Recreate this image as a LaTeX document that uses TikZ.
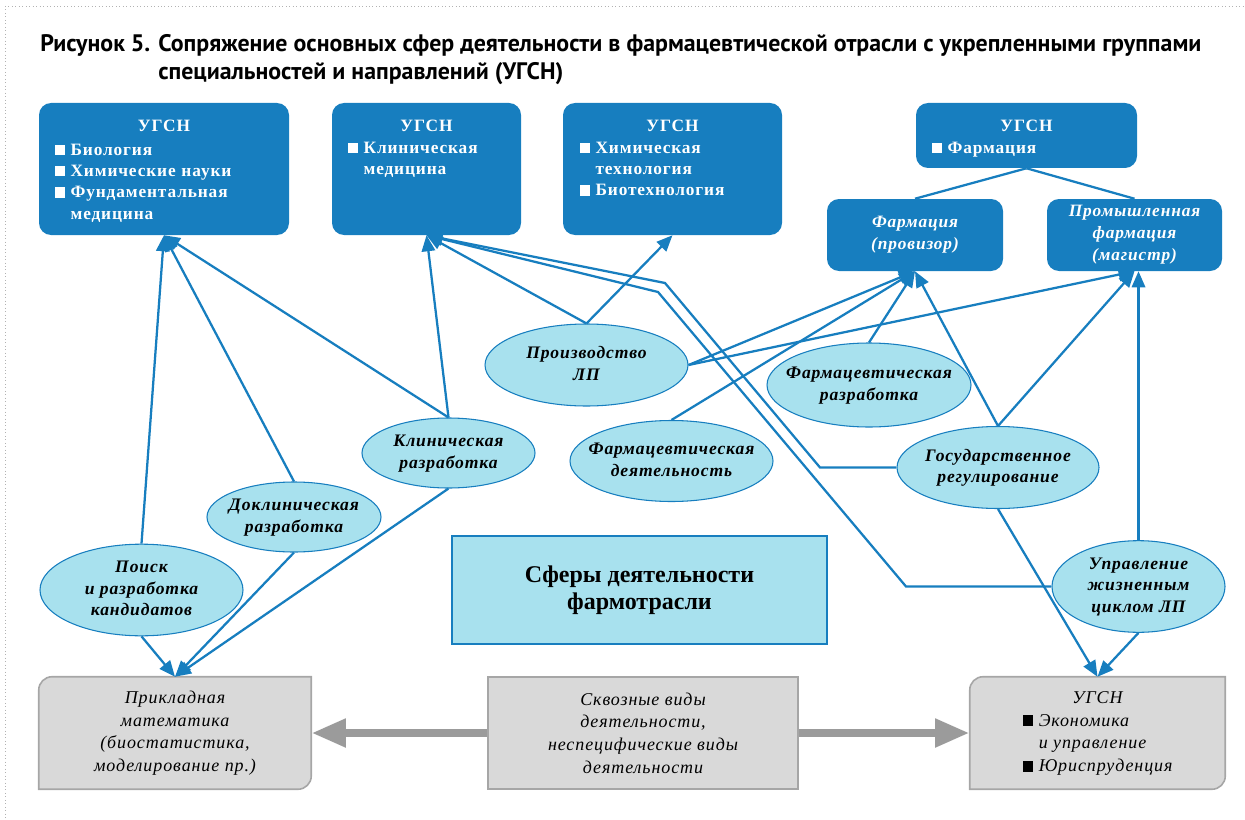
\documentclass[tikz,border=0pt]{standalone}
\usepackage{fontspec}
\setmainfont{Liberation Serif}
\newfontfamily\spacedserif[LetterSpace=5]{Liberation Serif}
\newfontfamily\titlesans{PT Sans}
\usetikzlibrary{positioning, arrows.meta, shapes.geometric, backgrounds}
\definecolor{ugsnBlue}{HTML}{177EBF}
\definecolor{sphereCyan}{HTML}{A8E1EE}
\definecolor{boxGray}{HTML}{D9D9D9}
\definecolor{edgeGray}{HTML}{A6A6A6}
\definecolor{arrowGray}{HTML}{9B9B9B}
\newcommand{\sqb}{\rule{0.6em}{0.6em}\hspace{0.3em}}
\newcommand{\sqgap}{\hspace{0.9em}}
\newcommand{\ovaltext}[1]{\makebox[0pt]{\begin{tabular}{@{}c@{}}#1\end{tabular}}}

\begin{document}
\begin{tikzpicture}[x=0.75pt, y=-0.75pt,
    ugsn/.style={fill=ugsnBlue, rounded corners=9pt, inner sep=0pt},
    ugsntext/.style={anchor=north, inner sep=0pt, text=white, align=left,
        font=\spacedserif\fontsize{13}{16}\selectfont\bfseries},
    profile/.style={fill=ugsnBlue, rounded corners=9pt, inner sep=0pt, text=white,
        align=center, font=\spacedserif\fontsize{13}{16.5}\selectfont\bfseries\itshape},
    sphere/.style={ellipse, draw=ugsnBlue, line width=0.8pt, fill=sphereCyan,
        inner sep=0pt, font=\spacedserif\fontsize{13.2}{16.2}\selectfont\bfseries\itshape},
    crossbox/.style={inner sep=0pt, align=center,
        font=\spacedserif\fontsize{13.5}{17}\selectfont\itshape},
    graybox/.style={fill=boxGray, draw=edgeGray, line width=1.2pt},
    link/.style={ugsnBlue, line width=1.7pt},
    arr/.style={link, -{Triangle[length=12pt, width=10pt]}},
    fatarr/.style={arrowGray, line width=6.5pt, -{Triangle[length=26pt, width=20pt]}},
    dots/.style={gray!60, dotted, line width=0.6pt}
  ]
  \useasboundingbox (0,0) rectangle (1245,820);
  \draw[dots] (5,6) -- (1245,6);
  \draw[dots] (5,6) -- (5,820);

  % title
  \node[anchor=base west, inner sep=0pt, font=\titlesans\fontsize{17.9}{20}\selectfont\bfseries]
    (title1) at (40,52) {Рисунок 5. Сопряжение основных сфер деятельности в фармацевтической отрасли с укрепленными группами};
  \node[anchor=base west, inner sep=0pt, font=\titlesans\fontsize{17.9}{20}\selectfont\bfseries]
    (title2) at (158,80) {специальностей и направлений (УГСН)};

  % UGSN boxes
  \node[ugsn, minimum width=187.5pt, minimum height=99pt] (bio) at (164,169) {};
  \node[ugsntext, text width=163.5pt] (bio-t) at ([yshift=-13pt]bio.north)
    {\makebox[\linewidth]{УГСН}\\[1.5pt] \sqb Биология\\ \sqb Химические науки\\ \sqb Фундаментальная\\ \sqgap медицина};
  \node[ugsn, minimum width=141.75pt, minimum height=99pt] (klinmed) at (426.5,169) {};
  \node[ugsntext, text width=117.75pt] (klinmed-t) at ([yshift=-13pt]klinmed.north)
    {\makebox[\linewidth]{УГСН}\\ \sqb Клиническая\\ \sqgap медицина};
  \node[ugsn, minimum width=164.25pt, minimum height=99pt] (chemtech) at (672.5,169) {};
  \node[ugsntext, text width=138.75pt] (chemtech-t) at ([yshift=-13pt]chemtech.north)
    {\makebox[\linewidth]{УГСН}\\ \sqb Химическая\\ \sqgap технология\\ \sqb Биотехнология};
  \node[ugsn, minimum width=165.75pt, minimum height=48.75pt] (farm) at (1026.5,135.5) {};
  \node[ugsntext, text width=141.75pt] (farm-t) at ([yshift=-13pt]farm.north)
    {\makebox[\linewidth]{УГСН}\\ \sqb Фармация};
  \node[profile, minimum width=132pt, minimum height=54pt] (farmprov) at (915,235)
    {Фармация\\(провизор)};
  \node[profile, minimum width=131.25pt, minimum height=54pt] (promfarm) at (1134.5,235)
    {Промышленная\\фармация\\(магистр)};
  \draw[link] (farm.south) -- (farmprov.north);
  \draw[link] (farm.south) -- (promfarm.north);

  % spheres
  \node[sphere, minimum width=152.25pt, minimum height=61.5pt] (poisk) at (141.5,590)
    {\ovaltext{Поиск\\и разработка\\кандидатов}};
  \node[sphere, minimum width=130.5pt, minimum height=52.5pt] (doklin) at (294,517)
    {\ovaltext{Доклиническая\\разработка}};
  \node[sphere, minimum width=129.75pt, minimum height=52.5pt] (klin) at (448.5,453)
    {\ovaltext{Клиническая\\разработка}};
  \node[sphere, minimum width=152.25pt, minimum height=61.5pt] (proizv) at (586.5,365)
    {\ovaltext{Производство\\ЛП}};
  \node[sphere, minimum width=152.25pt, minimum height=60.75pt] (farmdeyat) at (671.5,461)
    {\ovaltext{Фармацевтическая\\деятельность}};
  \node[sphere, minimum width=153pt, minimum height=63pt] (farmrazr) at (869,385)
    {\ovaltext{Фармацевтическая\\разработка}};
  \node[sphere, minimum width=151.5pt, minimum height=61.5pt] (gosreg) at (998,467.5)
    {\ovaltext{Государственное\\регулирование}};
  \node[sphere, minimum width=129.75pt, minimum height=62.25pt] (upr) at (1138.5,586.5)
    {\ovaltext{Управление\\жизненным\\циклом ЛП}};

  \node[draw=ugsnBlue, line width=2pt, fill=sphereCyan, minimum width=281.25pt,
    minimum height=81pt, align=center, font=\fontsize{18}{20}\selectfont\bfseries]
    (sfery) at (639.5,590) {Сферы деятельности\\фармотрасли};

  % cross-cutting boxes
  \node[crossbox, minimum width=204pt, minimum height=84pt] (prikl) at (175,733)
    {Прикладная\\математика\\(биостатистика,\\моделирование пр.)};
  \node[crossbox, graybox, minimum width=232.5pt, minimum height=84pt] (skvoz) at (643,733)
    {Сквозные виды\\деятельности,\\неспецифические виды\\деятельности};
  \node[crossbox, minimum width=191.25pt, minimum height=84pt] (econ) at (1097.5,733)
    {\begin{tabular}{@{}l@{}}\multicolumn{1}{@{}c@{}}{УГСН}\\ \sqb Экономика\\ \sqgap и управление\\ \sqb Юриспруденция\end{tabular}};
  \begin{scope}[on background layer]
    \draw[graybox] (prikl.north east) [rounded corners=10pt] -- (prikl.south east)
      [sharp corners] -- (prikl.south west) [rounded corners=10pt] -- (prikl.north west)
      [sharp corners] -- cycle;
    \draw[graybox] (econ.north east) [rounded corners=10pt] -- (econ.south east)
      [sharp corners] -- (econ.south west) [rounded corners=10pt] -- (econ.north west)
      [sharp corners] -- cycle;
  \end{scope}
  \draw[fatarr] (skvoz.west) -- (prikl.east);
  \draw[fatarr] (skvoz.east) -- (econ.west);

  % links to UGSN
  \draw[arr] (poisk.north) -- (bio.south);
  \draw[arr] (doklin.north) -- (bio.south);
  \draw[arr] (klin.north) -- (bio.south);
  \draw[arr] (klin.north) -- (klinmed.south);
  \draw[arr] (proizv.north) -- (klinmed.south);
  \draw[arr] (proizv.north) -- (chemtech.south);
  \draw[arr] (proizv.east) -- (farmprov.south);
  \draw[arr] (proizv.east) -- (promfarm.south);
  \draw[arr] (farmdeyat.north) -- (farmprov.south);
  \draw[arr] (farmrazr.north) -- (farmprov.south);
  \draw[arr] (gosreg.north) -- (farmprov.south);
  \draw[arr] (gosreg.north) -- (promfarm.south);
  \draw[arr] (upr.north) -- (upr.north |- promfarm.south);
  \coordinate (kinkA) at (820,467.5);
  \coordinate (kinkB) at (665,283);
  \coordinate (kinkC) at (906,586.5);
  \coordinate (kinkD) at (658,292);
  \draw[arr] (gosreg.west) -- (kinkA) -- (kinkB) -- (klinmed.south);
  \draw[arr] (upr.west) -- (kinkC) -- (kinkD) -- (klinmed.south);

  % links down
  \draw[arr] (poisk.south) -- (prikl.north);
  \draw[arr] (doklin.south) -- (prikl.north);
  \draw[arr] (klin.south) -- (prikl.north);
  \draw[arr] (gosreg.south) -- (econ.north);
  \draw[arr] (upr.south) -- (econ.north);
\end{tikzpicture}
\end{document}
